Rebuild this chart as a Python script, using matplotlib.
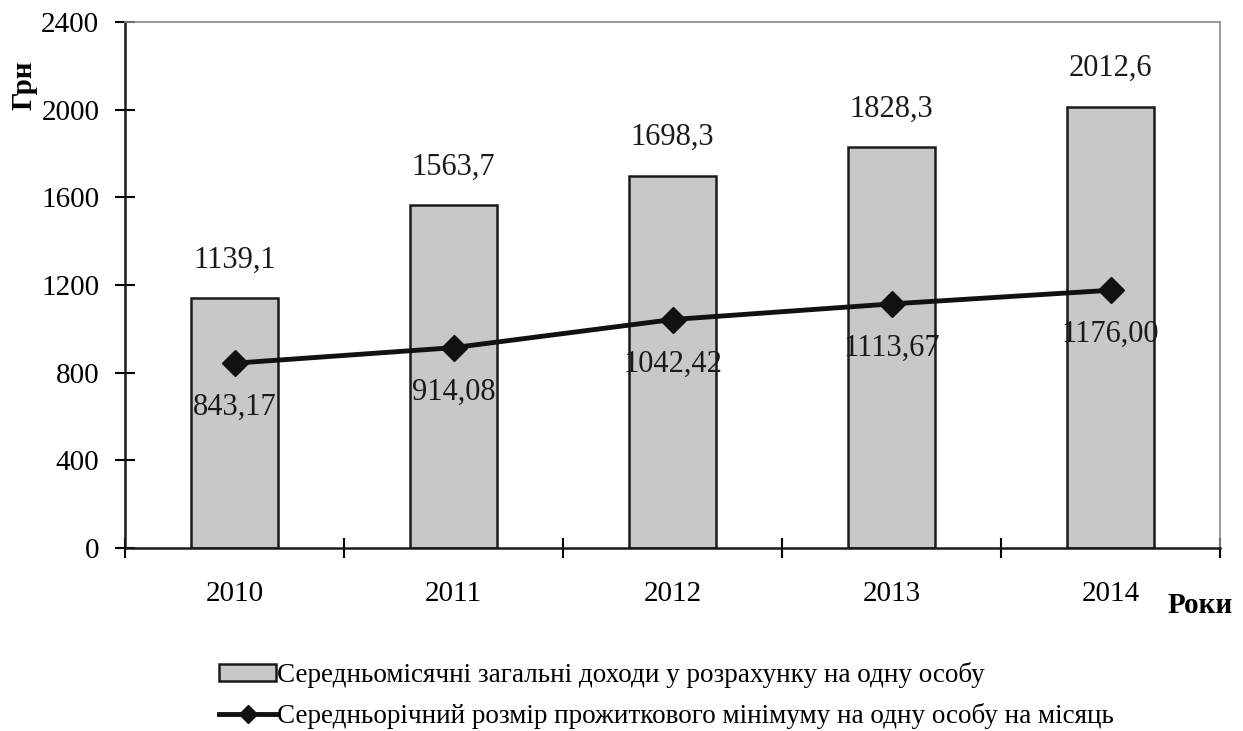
import numpy as np
from matplotlib import pyplot as plt
from matplotlib.lines import Line2D
from matplotlib.ticker import FixedLocator, NullFormatter

years = ["2010", "2011", "2012", "2013", "2014"]
income = [1139.1, 1563.7, 1698.3, 1828.3, 2012.6]
subsistence = [843.17, 914.08, 1042.42, 1113.67, 1176.00]
income_labels = ["1139,1", "1563,7", "1698,3", "1828,3", "2012,6"]
subsistence_labels = ["843,17", "914,08", "1042,42", "1113,67", "1176,00"]
yticks = [0, 400, 800, 1200, 1600, 2000, 2400]

income_name = "Середньомісячні загальні доходи у розрахунку на одну особу"
subsistence_name = "Середньорічний розмір прожиткового мінімуму на одну особу на місяць"

plt.rcParams["font.family"] = ["Liberation Serif", "DejaVu Serif"]

fig = plt.figure(figsize=(12.43, 7.31), dpi=100)
ax = fig.add_axes([0.1006, 0.2503, 0.8809, 0.7197])

x = np.arange(len(years))
bars = ax.bar(x, income, width=0.4, color="#c8c8cb", edgecolor="#1a1a1a",
              linewidth=1.8, label=income_name, zorder=2)
ax.plot(x, subsistence, color="#111111", linewidth=3.5, marker="D",
        markersize=13, zorder=3)

for xi, v, txt in zip(x, income, income_labels):
    ax.annotate(txt, (xi, v), xytext=(0, 17), textcoords="offset points",
                ha="center", va="bottom", fontsize=22, color="#1a1a1a")
for xi, v, txt in zip(x, subsistence, subsistence_labels):
    ax.annotate(txt, (xi, v), xytext=(0, -32), textcoords="offset points",
                ha="center", va="center", fontsize=22, color="#1a1a1a", zorder=4)

ax.set_xlim(-0.5, len(years) - 0.5)
ax.set_ylim(0, 2400)
ax.set_yticks(yticks)
ax.set_xticks(x)
ax.set_xticklabels(years)
ax.xaxis.set_minor_locator(FixedLocator(np.arange(-0.5, len(years), 1.0)))
ax.xaxis.set_minor_formatter(NullFormatter())
ax.tick_params(axis="x", which="major", length=0, pad=24, labelsize=21)
ax.tick_params(axis="x", which="minor", direction="inout", length=15, width=1.5)
ax.tick_params(axis="y", direction="inout", length=15, width=1.5, pad=11,
               labelsize=21)

for side in ("left", "bottom"):
    ax.spines[side].set_color("#1a1a1a")
    ax.spines[side].set_linewidth(1.8)
for side in ("top", "right"):
    ax.spines[side].set_color("#8a8a8a")
    ax.spines[side].set_linewidth(1.2)

ax.set_ylabel("Грн", fontsize=21, fontweight="bold")
ax.yaxis.set_label_coords(-0.08, 0.88)
fig.text(0.992, 0.172, "Роки", fontsize=21, fontweight="bold",
         ha="right", va="center")

# smaller diamond in the legend than on the line itself
line_handle = Line2D([], [], color="#111111", linewidth=3.5, marker="D",
                     markersize=9)
fig.legend(handles=[bars, line_handle], labels=[income_name, subsistence_name],
           loc="upper left", bbox_to_anchor=(0.1655, 0.113),
           frameon=False, fontsize=19.5, handlelength=2.1, handleheight=0.55,
           handletextpad=0.05, labelspacing=0.55, borderpad=0)

fig.savefig("out.png", dpi=100)
